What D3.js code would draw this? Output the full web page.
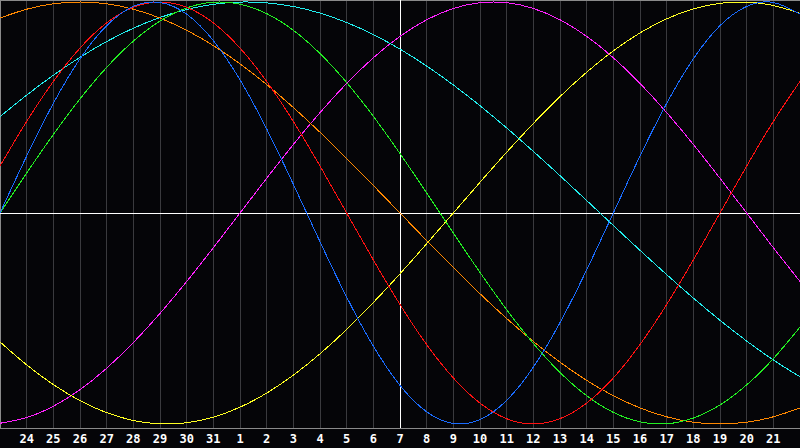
<!DOCTYPE html>
<html>
<head>
<meta charset="utf-8">
<script src="https://cdn.jsdelivr.net/npm/d3@7/dist/d3.min.js"></script>
<style>
html,body{margin:0;padding:0;background:#050508;overflow:hidden;}
svg{display:block;}
</style>
</head>
<body>
<svg id="chart" width="800" height="448"></svg>
<script>
// day labels at gridlines 1..29 (index 0 = the 23rd, index 30 = the 22nd)
const dayLabels = ["24","25","26","27","28","29","30","31","1","2","3","4","5","6","7","8","9","10","11","12","13","14","15","16","17","18","19","20","21"];

// daily values, index 0..30
const physical = [0,0.2698,0.5196,0.7308,0.8879,0.9791,0.9977,0.9423,0.8170,0.6311,0.3984,0.1362,-0.1362,-0.3984,-0.6311,-0.8170,-0.9423,-0.9977,-0.9791,-0.8879,-0.7308,-0.5196,-0.2698,0,0.2698,0.5196,0.7308,0.8879,0.9791,0.9977,0.9423];
const emotional = [0.2225,0.4339,0.6235,0.7818,0.9010,0.9749,1,0.9749,0.9010,0.7818,0.6235,0.4339,0.2225,0,-0.2225,-0.4339,-0.6235,-0.7818,-0.9010,-0.9749,-1,-0.9749,-0.9010,-0.7818,-0.6235,-0.4339,-0.2225,0,0.2225,0.4339,0.6235];
const intellectual = [0,0.1893,0.3717,0.5406,0.6901,0.8146,0.9096,0.9718,0.9989,0.9898,0.9450,0.8660,0.7557,0.6182,0.4582,0.2817,0.0951,-0.0951,-0.2817,-0.4582,-0.6182,-0.7557,-0.8660,-0.9450,-0.9898,-0.9989,-0.9718,-0.9096,-0.8146,-0.6901,-0.5406];
const intuitive = [-0.9966,-0.9694,-0.9158,-0.8372,-0.7357,-0.6142,-0.4759,-0.3247,-0.1646,0,0.1646,0.3247,0.4759,0.6142,0.7357,0.8372,0.9158,0.9694,0.9966,0.9966,0.9694,0.9158,0.8372,0.7357,0.6142,0.4759,0.3247,0.1646,0,-0.1646,-0.3247];
const aesthetic = [-0.6112,-0.7199,-0.8133,-0.8894,-0.9464,-0.9834,-0.9993,-0.9940,-0.9675,-0.9203,-0.8535,-0.7686,-0.6673,-0.5517,-0.4244,-0.2881,-0.1456,0,0.1456,0.2881,0.4244,0.5517,0.6673,0.7686,0.8535,0.9203,0.9675,0.9940,0.9993,0.9834,0.9464];
const awareness = [0.9239,0.9659,0.9914,1,0.9914,0.9659,0.9239,0.8660,0.7934,0.7071,0.6088,0.5,0.3827,0.2588,0.1305,0,-0.1305,-0.2588,-0.3827,-0.5,-0.6088,-0.7071,-0.7934,-0.8660,-0.9239,-0.9659,-0.9914,-1,-0.9914,-0.9659,-0.9239];
const spiritual = [0.4566,0.5586,0.6528,0.7378,0.8125,0.8757,0.9267,0.9646,0.9890,0.9996,0.9960,0.9786,0.9473,0.9028,0.8456,0.7765,0.6966,0.6068,0.5085,0.4031,0.2921,0.1769,0.0592,-0.0592,-0.1769,-0.2921,-0.4031,-0.5085,-0.6068,-0.6966,-0.7764];

const series = [
  {name:"intuitive", values:intuitive, color:"#ff22ff"},
  {name:"aesthetic", values:aesthetic, color:"#ffff22"},
  {name:"spiritual", values:spiritual, color:"#22eeee"},
  {name:"awareness", values:awareness, color:"#ff8800"},
  {name:"intellectual", values:intellectual, color:"#22ee22"},
  {name:"emotional", values:emotional, color:"#ff1111"},
  {name:"physical", values:physical, color:"#1a6cff"}
];

const W = 800, plotBottom = 428;
const svg = d3.select("#chart");
const x = d3.scaleLinear().domain([0, 30]).range([0, W]);
const y = d3.scaleLinear().domain([-1, 1]).range([424, 2]);

svg.append("rect").attr("x",0).attr("y",0).attr("width",800).attr("height",448).attr("fill","#050508");

// grid lines
const gridIdx = d3.range(1, 30);
svg.append("g").selectAll("line").data(gridIdx.filter(i => i !== 15)).join("line")
  .attr("x1", i => Math.floor(x(i)) + 0.5).attr("x2", i => Math.floor(x(i)) + 0.5)
  .attr("y1", 0).attr("y2", plotBottom)
  .attr("stroke", "#3a3a3e").attr("stroke-width", 1).attr("shape-rendering","crispEdges");

// border
svg.append("line").attr("x1",0).attr("x2",W).attr("y1",0.5).attr("y2",0.5).attr("stroke","#8a8a8a").attr("shape-rendering","crispEdges");
svg.append("line").attr("x1",0).attr("x2",W).attr("y1",plotBottom+0.5).attr("y2",plotBottom+0.5).attr("stroke","#8a8a8a").attr("shape-rendering","crispEdges");
svg.append("line").attr("x1",0.5).attr("x2",0.5).attr("y1",0).attr("y2",plotBottom).attr("stroke","#8a8a8a").attr("shape-rendering","crispEdges");

// center cross
svg.append("line").attr("x1",0).attr("x2",W).attr("y1",Math.floor(y(0))+0.5).attr("y2",Math.floor(y(0))+0.5)
  .attr("stroke","#ffffff").attr("shape-rendering","crispEdges");
svg.append("line").attr("x1",Math.floor(x(15))+0.5).attr("x2",Math.floor(x(15))+0.5).attr("y1",0).attr("y2",plotBottom)
  .attr("stroke","#ffffff").attr("shape-rendering","crispEdges");

// curves
const line = d3.line().x((d, i) => x(i)).y(d => y(d)).curve(d3.curveNatural);
svg.append("g").selectAll("path").data(series).join("path")
  .attr("d", s => line(s.values))
  .attr("fill","none").attr("stroke", s => s.color).attr("stroke-width", 1)
  .attr("shape-rendering","crispEdges");

// x axis labels
svg.append("g").selectAll("text").data(dayLabels).join("text")
  .attr("x", (d, k) => x(k + 1)).attr("y", 443)
  .attr("text-anchor","middle")
  .attr("fill","#ffffff")
  .attr("font-family","'DejaVu Sans Mono', monospace")
  .attr("font-weight","bold")
  .attr("font-size","12px")
  .text(d => d);
</script>
</body>
</html>
